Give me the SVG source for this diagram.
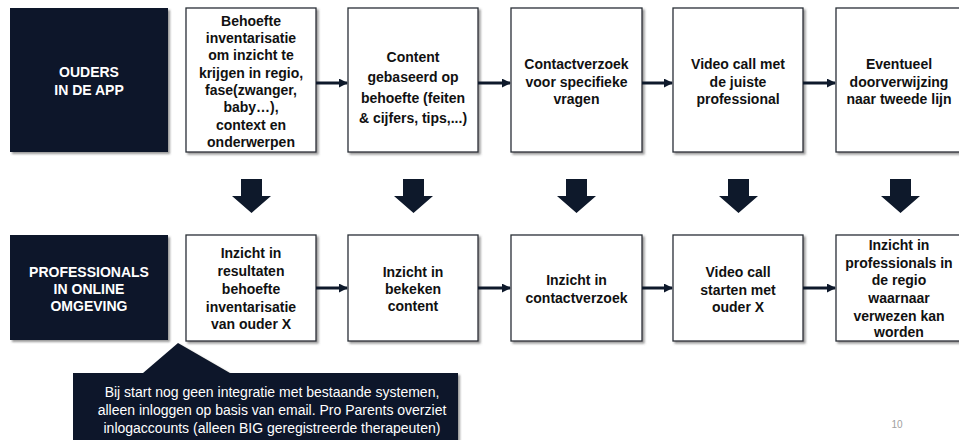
<svg xmlns="http://www.w3.org/2000/svg" width="959" height="440" viewBox="0 0 959 440">
<style>
.dark{fill:#0e192b}
.box{fill:#ffffff;stroke:#2a2f38;stroke-width:1.3}
.t{font-family:"Liberation Sans",Arial,sans-serif;font-weight:bold;font-size:14px;fill:#111;text-anchor:middle}
.w{fill:#ffffff}
.note{font-family:"Liberation Sans",Arial,sans-serif;font-size:14px;fill:#ffffff;text-anchor:middle}
.h{stroke:#0e192b;stroke-width:3;fill:none}
.down{fill:#0e192b}
.pg{font-family:"Liberation Sans",Arial,sans-serif;font-size:10px;fill:#a0a0a0;text-anchor:middle}
</style>
<defs>
<filter id="sh" x="-10%" y="-10%" width="125%" height="125%">
<feDropShadow dx="2" dy="2" stdDeviation="1.2" flood-color="#555" flood-opacity="0.6"/>
</filter>
<marker id="ah" viewBox="0 0 10 10" refX="9" refY="5" markerWidth="3" markerHeight="3" orient="auto" markerUnits="strokeWidth">
<path d="M0,0 L10,5 L0,10 Z" fill="#0e192b"/>
</marker>
</defs>
<rect width="959" height="440" fill="#ffffff"/>

<g id="ouders">
<rect class="dark" x="10" y="8" width="158" height="144" filter="url(#sh)"/>
<text class="t w" x="89" y="77">OUDERS</text>
<text class="t w" x="89" y="95">IN DE APP</text>
</g>
<g id="top1">
<rect class="box" x="186" y="8" width="130" height="144" filter="url(#sh)"/>
<text class="t" x="251" y="26">Behoefte</text>
<text class="t" x="251" y="43">inventarisatie</text>
<text class="t" x="251" y="60">om inzicht te</text>
<text class="t" x="251" y="78">krijgen in regio,</text>
<text class="t" x="251" y="95">fase(zwanger,</text>
<text class="t" x="251" y="112">baby…),</text>
<text class="t" x="251" y="130">context en</text>
<text class="t" x="251" y="147">onderwerpen</text>
</g>
<g id="top2">
<rect class="box" x="348" y="8" width="130" height="144" filter="url(#sh)"/>
<text class="t" x="413" y="62">Content</text>
<text class="t" x="413" y="82">gebaseerd op</text>
<text class="t" x="413" y="103">behoefte (feiten</text>
<text class="t" x="413" y="123">&amp; cijfers, tips,...)</text>
</g>
<g id="top3">
<rect class="box" x="511" y="8" width="131" height="144" filter="url(#sh)"/>
<text class="t" x="576.5" y="69">Contactverzoek</text>
<text class="t" x="576.5" y="87">voor specifieke</text>
<text class="t" x="576.5" y="104">vragen</text>
</g>
<g id="top4">
<rect class="box" x="673" y="8" width="130" height="144" filter="url(#sh)"/>
<text class="t" x="738" y="69">Video call met</text>
<text class="t" x="738" y="87">de juiste</text>
<text class="t" x="738" y="104">professional</text>
</g>
<g id="top5">
<rect class="box" x="836" y="8" width="130" height="144" filter="url(#sh)"/>
<text class="t" x="899" y="69">Eventueel</text>
<text class="t" x="899" y="87">doorverwijzing</text>
<text class="t" x="899" y="104">naar tweede lijn</text>
</g>

<g id="professionals">
<rect class="dark" x="10" y="235" width="158" height="105" filter="url(#sh)"/>
<text class="t w" x="89" y="277">PROFESSIONALS</text>
<text class="t w" x="89" y="294">IN ONLINE</text>
<text class="t w" x="89" y="311">OMGEVING</text>
</g>
<g id="bot1">
<rect class="box" x="186" y="235" width="130" height="106" filter="url(#sh)"/>
<text class="t" x="251" y="258">Inzicht in</text>
<text class="t" x="251" y="276">resultaten</text>
<text class="t" x="251" y="294">behoefte</text>
<text class="t" x="251" y="312">inventarisatie</text>
<text class="t" x="251" y="329">van ouder X</text>
</g>
<g id="bot2">
<rect class="box" x="348" y="235" width="130" height="106" filter="url(#sh)"/>
<text class="t" x="413" y="277">Inzicht in</text>
<text class="t" x="413" y="294">bekeken</text>
<text class="t" x="413" y="311">content</text>
</g>
<g id="bot3">
<rect class="box" x="511" y="235" width="131" height="106" filter="url(#sh)"/>
<text class="t" x="576.5" y="285">Inzicht in</text>
<text class="t" x="576.5" y="303">contactverzoek</text>
</g>
<g id="bot4">
<rect class="box" x="673" y="235" width="130" height="106" filter="url(#sh)"/>
<text class="t" x="738" y="277">Video call</text>
<text class="t" x="738" y="295">starten met</text>
<text class="t" x="738" y="312">ouder X</text>
</g>
<g id="bot5">
<rect class="box" x="836" y="235" width="130" height="106" filter="url(#sh)"/>
<text class="t" x="899" y="250">Inzicht in</text>
<text class="t" x="899" y="268">professionals in</text>
<text class="t" x="899" y="285">de regio</text>
<text class="t" x="899" y="303">waarnaar</text>
<text class="t" x="899" y="321">verwezen kan</text>
<text class="t" x="899" y="337">worden</text>
</g>

<g id="connectors">
<line class="h" x1="316" y1="83" x2="347" y2="83" marker-end="url(#ah)"/>
<line class="h" x1="478" y1="83" x2="510" y2="83" marker-end="url(#ah)"/>
<line class="h" x1="642" y1="83" x2="672" y2="83" marker-end="url(#ah)"/>
<line class="h" x1="803" y1="83" x2="835" y2="83" marker-end="url(#ah)"/>
<line class="h" x1="316" y1="288" x2="347" y2="288" marker-end="url(#ah)"/>
<line class="h" x1="478" y1="288" x2="510" y2="288" marker-end="url(#ah)"/>
<line class="h" x1="642" y1="288" x2="672" y2="288" marker-end="url(#ah)"/>
<line class="h" x1="803" y1="288" x2="835" y2="288" marker-end="url(#ah)"/>
<path class="down" d="M241,179 H262 V196 H271 L251.5,213 L232,196 H241 Z"/>
<path class="down" d="M403,179 H424 V196 H433 L413.5,213 L394,196 H403 Z"/>
<path class="down" d="M566,179 H587 V196 H596 L576.5,213 L557,196 H566 Z"/>
<path class="down" d="M728,179 H749 V196 H758 L738.5,213 L719,196 H728 Z"/>
<path class="down" d="M890,179 H911 V196 H920 L900.5,213 L881,196 H890 Z"/>
</g>

<g id="callout">
<path class="dark" d="M73,373 L143,373 L178,343 L230,373 L458,373 L458,446 L73,446 Z" filter="url(#sh)"/>
<text class="note" x="272" y="397">Bij start nog geen integratie met bestaande systemen,</text>
<text class="note" x="272" y="415">alleen inloggen op basis van email. Pro Parents overziet</text>
<text class="note" x="272" y="433">inlogaccounts (alleen BIG geregistreerde therapeuten)</text>
</g>

<text class="pg" x="897" y="428">10</text>
</svg>
